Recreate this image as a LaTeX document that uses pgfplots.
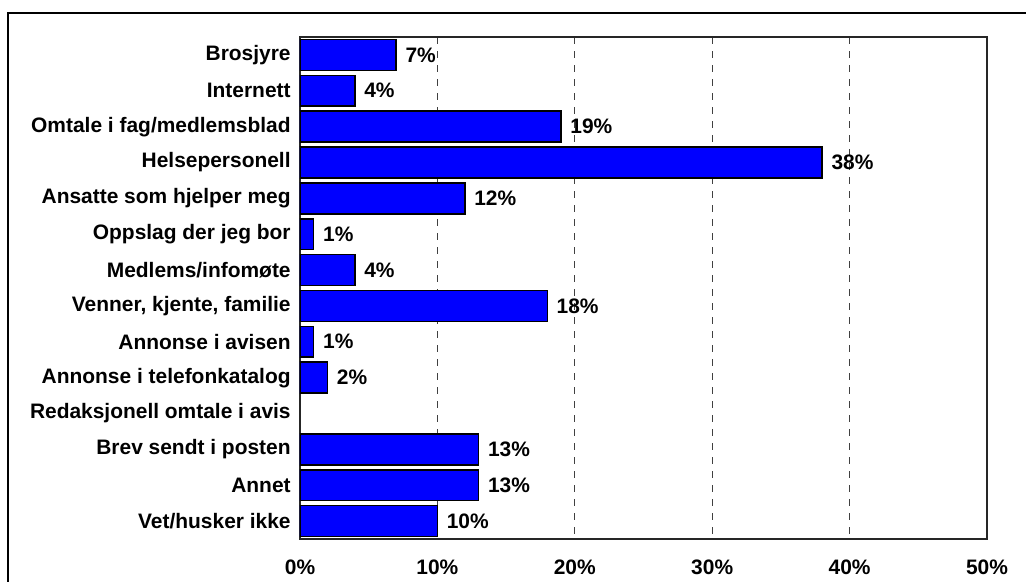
\documentclass[border=0pt]{standalone}
\usepackage{pgfplots}
\pgfplotsset{compat=1.18}
\usepackage{fontspec}
\setmainfont{Liberation Sans}
\begin{document}
\begin{tikzpicture}[x=0.75pt,y=0.75pt]
\useasboundingbox (0,0) rectangle (1026,582);
\draw[line width=1.5pt] (7.5,0) -- (7.5,569) -- (1026,569);
\begin{axis}[
  at={(225pt,32.25pt)}, anchor=south west,
  scale only axis, width=515.25pt, height=376.5pt,
  xmin=0, xmax=50, ymin=-0.5, ymax=13.5,
  y dir=reverse,
  xbar, bar width=0.86,
  xtick={0,10,20,30,40,50},
  xticklabels={0\%,10\%,20\%,30\%,40\%,50\%},
  ytick={0,...,13},
  yticklabels={Brosjyre,Internett,Omtale i fag/medlemsblad,Helsepersonell,Ansatte som hjelper meg,Oppslag der jeg bor,Medlems/infomøte,{Venner, kjente, familie},Annonse i avisen,Annonse i telefonkatalog,Redaksjonell omtale i avis,Brev sendt i posten,Annet,Vet/husker ikke},
  tick style={draw=none},
  major tick length=0pt,
  every tick label/.append style={font=\fontsize{15.7}{17}\selectfont\bfseries, text=black},
  xticklabel style={yshift=-12.5pt},
  yticklabel style={xshift=-3.5pt},
  /pgf/number format/assume math mode=true,
  xmajorgrids,
  grid style={black!75, line width=0.75pt, dash pattern=on 5pt off 5.5pt},
  axis line style={line width=1.1pt, black!85},
  nodes near coords={\pgfmathprintnumber{\pgfplotspointmeta}\%},
  every node near coord/.append style={font=\fontsize{15.7}{17}\selectfont\bfseries, anchor=west, inner sep=0pt, xshift=6.5pt, text=black},
]
\addplot[fill={rgb,255:red,0;green,0;blue,255}, draw=black, line width=1.1pt]
  coordinates {(7,0) (4,1) (19,2) (38,3) (12,4) (1,5) (4,6) (18,7) (1,8) (2,9) (13,11) (13,12) (10,13)};
\end{axis}
\end{tikzpicture}
\end{document}
